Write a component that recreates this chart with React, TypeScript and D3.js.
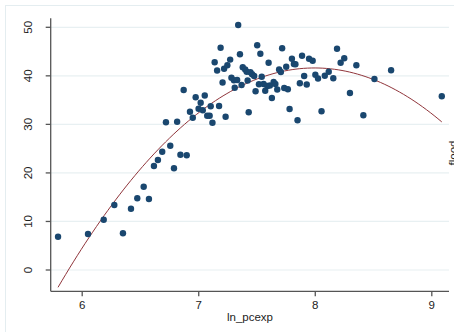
import * as d3 from "d3";
import { useEffect, useRef } from "react";

// scatter: log per-capita expenditure vs flood
const lnPcexp = [
    5.797, 6.054, 6.189, 6.28, 6.354, 6.423, 6.477, 6.532, 6.577, 6.62,
    6.654, 6.691, 6.76, 6.792, 6.847, 6.901, 6.723, 6.819, 6.875, 6.978,
    7.056, 7.021, 6.929, 7.003, 7.039, 7.107, 7.179, 6.953, 7.077, 7.098,
    7.122, 7.235, 7.433, 7.192, 7.141, 7.162, 7.222, 7.25, 7.274, 7.358,
    7.382, 7.403, 7.416, 7.209, 7.285, 7.306, 7.334, 7.424, 7.372, 7.313,
    7.343, 7.506, 7.533, 7.72, 7.604, 7.804, 7.891, 7.951, 7.982, 7.821,
    7.834, 7.755, 7.694, 7.709, 7.448, 7.462, 7.48, 7.545, 7.909, 8.005,
    8.028, 8.086, 8.12, 8.159, 8.191, 8.222, 8.253, 8.357, 8.655, 9.09,
    8.302, 8.417, 8.512, 7.872, 7.931, 7.521, 7.561, 7.593, 7.615, 7.647,
    7.662, 7.678, 7.738, 7.769, 7.492, 7.575, 7.632, 7.784, 7.852, 8.058,
];
const flood = [
    6.86, 7.42, 10.36, 13.39, 7.56, 12.63, 14.77, 17.16, 14.63, 21.43,
    22.66, 24.37, 25.61, 20.95, 23.75, 23.63, 30.45, 30.53, 37.08, 35.58,
    35.95, 34.47, 32.61, 33.23, 32.9, 33.75, 33.79, 31.38, 31.79, 31.77,
    30.33, 31.56, 32.49, 45.78, 42.81, 41.1, 41.45, 42.17, 43.35, 44.46,
    41.76, 41.31, 40.85, 38.63, 39.62, 39.08, 39.14, 39.04, 38.11, 37.56,
    50.47, 46.31, 44.56, 45.67, 42.69, 43.51, 44.15, 43.51, 43.1, 42.44,
    42.4, 41.88, 41.31, 40.79, 40.75, 40.34, 39.97, 39.82, 39.97, 40.21,
    39.45, 40.03, 40.85, 39.51, 45.59, 42.71, 43.63, 42.17, 41.14, 35.78,
    36.46, 31.87, 39.35, 38.46, 38.22, 38.28, 38.32, 37.91, 38.01, 38.73,
    38.32, 37.19, 37.49, 37.23, 36.82, 36.94, 35.43, 33.17, 30.84, 32.72,
];
const xTicks = [6, 7, 8, 9];
const yTicks = [0, 10, 20, 30, 40, 50];

// least squares quadratic fit (Stata qfit)
function qfit(xs: number[], ys: number[]) {
    const n = xs.length;
    const m = d3.mean(xs)!;
    const u = xs.map((v) => v - m);
    const s = (k: number) => d3.sum(u, (v) => v ** k);
    const t = (k: number) => d3.sum(u, (v, i) => v ** k * ys[i]);
    const A = [
        [n, s(1), s(2), t(0)],
        [s(1), s(2), s(3), t(1)],
        [s(2), s(3), s(4), t(2)],
    ];
    for (let i = 0; i < 3; i++) {
        for (let j = i + 1; j < 3; j++) {
            const f = A[j][i] / A[i][i];
            for (let k = i; k < 4; k++) A[j][k] -= f * A[i][k];
        }
    }
    const c = [0, 0, 0];
    for (let i = 2; i >= 0; i--) {
        let v = A[i][3];
        for (let k = i + 1; k < 3; k++) v -= A[i][k] * c[k];
        c[i] = v / A[i][i];
    }
    return (x: number) => c[0] + c[1] * (x - m) + c[2] * (x - m) ** 2;
}

const W = 454;
const H = 332;

export default function App() {
    const ref = useRef<SVGSVGElement>(null);

    useEffect(() => {
        const svg = d3.select(ref.current);
        svg.selectAll("*").remove();

        const x = d3.scaleLinear().domain([6, 9]).range([81.7, 431.3]);
        const y = d3.scaleLinear().domain([0, 50]).range([270, 27.3]);
        const left = 50.7, right = 449, top = 18.3, bottom = 291.3;
        const font = "Helvetica, Arial, 'Liberation Sans', sans-serif";

        // outer frame
        svg.append("rect")
            .attr("x", 5.5).attr("y", 5.5)
            .attr("width", 600).attr("height", 600)
            .attr("fill", "white")
            .attr("stroke", "#e4edf0");

        // gridlines
        svg.append("g")
            .selectAll("line")
            .data(yTicks)
            .join("line")
            .attr("x1", left).attr("x2", right)
            .attr("y1", (d) => y(d)).attr("y2", (d) => y(d))
            .attr("stroke", "#e8f0f2")
            .attr("stroke-width", 1.2);

        // fit line
        const fit = qfit(lnPcexp, flood);
        const [x0, x1] = d3.extent(lnPcexp) as [number, number];
        const xs = d3.range(0, 101).map((i) => x0 + ((x1 - x0) * i) / 100);
        const line = d3.line<number>().x((d) => x(d)).y((d) => y(fit(d)));
        svg.append("path")
            .attr("d", line(xs)!)
            .attr("fill", "none")
            .attr("stroke", "#90353b")
            .attr("stroke-width", 1);

        // points
        svg.append("g")
            .selectAll("circle")
            .data(lnPcexp)
            .join("circle")
            .attr("cx", (d) => x(d))
            .attr("cy", (d, i) => y(flood[i]))
            .attr("r", 3.2)
            .attr("fill", "#1a476f");

        // y axis
        const ya = svg.append("g").attr("transform", `translate(${left},0)`);
        ya.call(d3.axisLeft(y).tickValues(yTicks).tickSize(5).tickFormat(d3.format("d")));
        ya.select(".domain").attr("d", `M0,${top}V${bottom}`);
        ya.selectAll("line, path").attr("stroke", "#555").attr("stroke-width", 1.3);
        ya.selectAll("text")
            .attr("font-family", font).attr("font-size", 11.5).attr("fill", "#222")
            .attr("x", null).attr("dy", null)
            .attr("text-anchor", "middle")
            .attr("transform", (d: any) => `translate(-18.3,${y(d)}) rotate(-90)`)
            .attr("y", 0);
        ya.selectAll(".tick").attr("transform", null);
        ya.selectAll(".tick line").attr("transform", (d: any) => `translate(0,${y(d)})`);

        // x axis
        const xa = svg.append("g").attr("transform", `translate(0,${bottom})`);
        xa.call(d3.axisBottom(x).tickValues(xTicks).tickSize(5).tickFormat(d3.format("d")));
        xa.select(".domain").attr("d", `M${left},0H${right}`);
        xa.selectAll("line, path").attr("stroke", "#555").attr("stroke-width", 1.3);
        xa.selectAll("text")
            .attr("font-family", font).attr("font-size", 11.5).attr("fill", "#222")
            .attr("dy", null).attr("y", 17.7);

        // titles
        svg.append("text")
            .attr("x", 250).attr("y", 321)
            .attr("text-anchor", "middle")
            .attr("font-family", font).attr("font-size", 11.5).attr("fill", "#222")
            .text("ln_pcexp");
        svg.append("text")
            .attr("transform", "translate(457,153) rotate(-90)")
            .attr("text-anchor", "middle")
            .attr("font-family", font).attr("font-size", 11.5).attr("fill", "#222")
            .text("flood");
    }, []);

    return (
        <svg
            ref={ref}
            width={W}
            height={H}
            style={{ position: "absolute", left: 0, top: 0, background: "white" }}
        />
    );
}
